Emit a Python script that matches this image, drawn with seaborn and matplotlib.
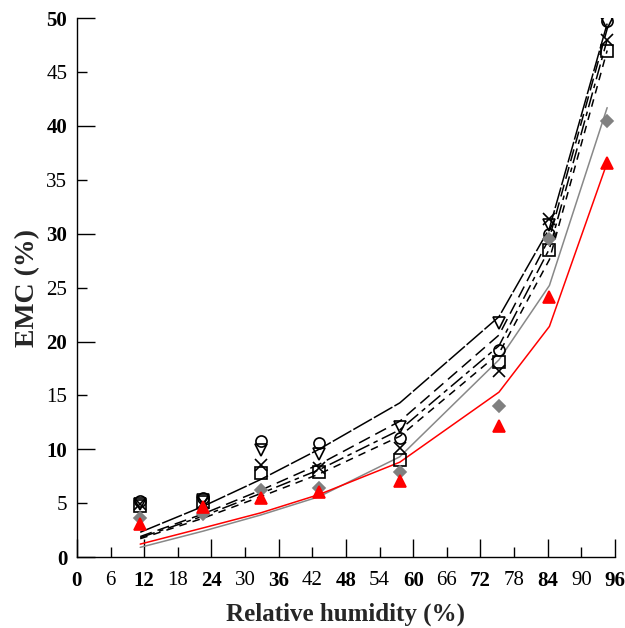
import matplotlib
matplotlib.use("Agg")
import matplotlib.pyplot as plt
import seaborn as sns
import pandas as pd

# ---- data ----
rh = [11.3, 22.5, 32.8, 43.2, 57.6, 75.3, 84.3, 94.6]

emc_circle = [5.2, 5.5, 10.8, 10.6, 11.0, 19.2, 30.0, 49.7]
emc_tri_down = [4.9, 5.3, 9.9, 9.6, 12.1, 21.7, 30.8, 49.6]
emc_x = [4.9, 5.0, 8.5, 8.3, 10.1, 17.3, 31.4, 48.0]
emc_square = [4.7, 5.1, 7.8, 7.9, 9.0, 18.1, 28.5, 47.0]
emc_diamond = [3.6, 4.0, 6.2, 6.4, 7.9, 14.0, 29.5, 40.5]
emc_red = [3.1, 4.6, 5.5, 6.0, 7.1, 12.2, 24.1, 36.6]

fit_1 = [2.3, 4.7, 7.2, 10.0, 14.3, 22.3, 30.5, 49.5]
fit_2 = [1.9, 4.0, 6.2, 8.6, 12.6, 20.6, 29.6, 49.0]
fit_3 = [1.8, 3.8, 5.9, 8.1, 11.8, 19.6, 28.6, 48.0]
fit_4 = [1.7, 3.6, 5.6, 7.7, 11.2, 18.9, 27.6, 47.0]
fit_gray = [0.9, 2.4, 3.9, 5.6, 9.3, 18.3, 25.2, 41.7]
fit_red = [1.2, 2.7, 4.1, 5.8, 8.8, 15.3, 21.4, 36.6]

x_major = [0, 12, 24, 36, 48, 60, 72, 84, 96]
x_minor = [6, 18, 30, 42, 54, 66, 78, 90]
y_major = [0, 10, 20, 30, 40, 50]
y_minor = [5, 15, 25, 35, 45]

sns.set_style("ticks")
plt.rcParams["font.family"] = ["Liberation Serif", "DejaVu Serif"]

fig = plt.figure(figsize=(6.25, 6.28), dpi=100)
ax = fig.add_axes([0.123, 0.113, 0.861, 0.858])

# fitted lines
fits = [
    (fit_1, "black", (0, (14, 1.5))),
    (fit_2, "black", (0, (8, 4))),
    (fit_3, "black", (0, (10, 3, 3, 3))),
    (fit_4, "black", (0, (5, 4))),
    (fit_gray, "#888888", "-"),
    (fit_red, "#ff0000", "-"),
]
for vals, col, ls in fits:
    df = pd.DataFrame({"rh": rh, "emc": vals})
    sns.lineplot(data=df, x="rh", y="emc", color=col, linestyle=ls,
                 linewidth=1.1, ax=ax, zorder=2)

# measured points
points = [
    (emc_circle, "o", "none", "black", 8),
    (emc_tri_down, "v", "none", "black", 8),
    (emc_x, "x", "black", "black", 8),
    (emc_square, "s", "none", "black", 8),
    (emc_diamond, "D", "#808080", "#808080", 6.5),
    (emc_red, "^", "#ff0000", "#ff0000", 8),
]
for vals, m, fc, ec, ms in points:
    df = pd.DataFrame({"rh": rh, "emc": vals})
    ax.plot(df["rh"], df["emc"], linestyle="none", marker=m, markersize=ms,
            markerfacecolor=fc, markeredgecolor=ec, markeredgewidth=1.2, zorder=3)

ax.set_xlim(0, 96)
ax.set_ylim(0, 50)
sns.despine(ax=ax)

fs = 15
ax.set_xticks(x_major)
ax.set_xticklabels([str(v) for v in x_major], fontweight="bold", fontsize=fs)
ax.set_xticks(x_minor, minor=True)
ax.set_xticklabels([str(v) for v in x_minor], minor=True, fontsize=fs)
ax.set_yticks(y_major)
ax.set_yticklabels([str(v) for v in y_major], fontweight="bold", fontsize=fs)
ax.set_yticks(y_minor, minor=True)
ax.set_yticklabels([str(v) for v in y_minor], minor=True, fontsize=fs)

ax.tick_params(axis="x", which="both", pad=10)
ax.tick_params(axis="y", which="both", pad=7)
ax.tick_params(axis="both", which="major", direction="in", length=13, width=1,
               colors="black")
ax.tick_params(axis="both", which="minor", direction="in", length=7, width=1,
               colors="black")
for s in ["left", "bottom"]:
    ax.spines[s].set_color("black")
    ax.spines[s].set_linewidth(1)

ax.set_xlabel("Relative humidity (%)", fontsize=18, fontweight="bold")
ax.xaxis.set_label_coords(0.5, -0.085)
ax.set_ylabel("EMC (%)", fontsize=20, fontweight="bold")
ax.yaxis.set_label_coords(-0.069, 0.5)

fig.savefig("out.png", dpi=100)
